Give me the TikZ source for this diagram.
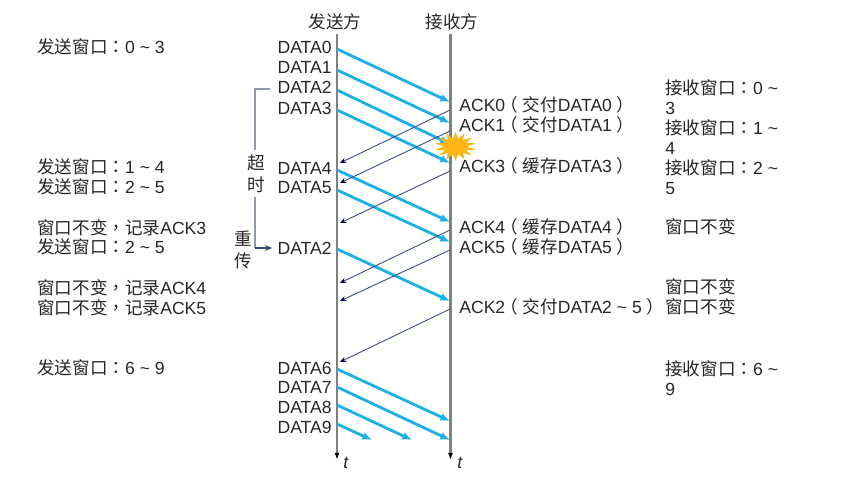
\documentclass[tikz,border=0pt]{standalone}
\usepackage{fontspec}
\setmainfont{Liberation Sans}
\newfontfamily\cjk{Noto Sans CJK SC}
\newfontfamily\cjkmid{Noto Sans CJK TC}
\usetikzlibrary{arrows.meta,shapes}
\newcommand{\zh}[1]{{\cjk #1}}
\newcommand{\zhc}{{\cjkmid ：}}
\newcommand{\zhd}{{\cjkmid ，}}
\newcommand{\zhl}{{\cjk\kern-.25em（\kern.25em}}
\newcommand{\zhr}{{\cjk\kern.25em）\kern-.25em}}
\newcommand{\tld}{\textasciitilde}
\definecolor{datablue}{HTML}{1DB0E6}
\definecolor{acknavy}{HTML}{3A4A78}
\definecolor{timeline}{HTML}{808080}
\definecolor{timergray}{HTML}{8E99AE}
\definecolor{burst}{HTML}{FDB515}
\tikzset{
  label/.style={inner sep=0pt, text=black!85, font=\fontsize{10}{11.4}\selectfont, align=left},
  datatext/.style={label, anchor=east},
  notetext/.style={label, anchor=west},
  dataline/.style={-{Latex[length=5.5pt,width=4.5pt]}, line width=1.6pt, color=datablue},
  ackline/.style={-{Stealth[length=3.5pt,width=3pt,black!80!blue]}, line width=0.5pt, color=acknavy},
  timeaxis/.style={-{Latex[length=4pt,width=2.8pt,black]}, line width=1.2pt, color=timeline},
  timerline/.style={line width=0.7pt, color=timergray}
}
\begin{document}
\begin{tikzpicture}[x=0.02cm, y=-0.02cm]
      \useasboundingbox (0,0) rectangle (858,480);

      %% time axes
      \node [label] (sender) at (335,22) {\zh{发送方}};
      \node [label] (receiver) at (452,22) {\zh{接收方}};
      \coordinate (sendertop) at (337,34);
      \coordinate (senderend) at (337,460);
      \coordinate (receivertop) at (450.5,34);
      \coordinate (receiverend) at (450.5,460);
      \draw [timeaxis] (sendertop) -- (senderend);
      \draw [timeaxis] (receivertop) -- (receiverend);
      \node [label] (sendert) at (346,463) {\textit{t}};
      \node [label] (receivert) at (460,463) {\textit{t}};

      %% data labels
      \foreach \n/\y/\t in {d0/47/DATA0, d1/67/DATA1, d2/87/DATA2, d3/108/DATA3,
        d4/168/DATA4, d5/188/DATA5, dr/248/DATA2,
        d6/368/DATA6, d7/387/DATA7, d8/407/DATA8, d9/427/DATA9}
        \node [datatext] (\n) at (332,\y) {\t};

      %% data segments
      \foreach \n/\xa/\ya/\xb/\yb in {a/337/49/450/102, b/337/70/450/123, c/337/90/450/144,
        e/337/110/450/163, f/337/170/450/222, g/337/190/450/242, h/337/249/450/301,
        i/337/369/450/421, j/337/387/450/440, k/337/405/412/440, l/337/424/372/440}
      {
        \coordinate (\n from) at (\xa,\ya);
        \coordinate (\n to) at (\xb,\yb);
        \draw [dataline] (\n from) -- (\n to);
      }

      %% lost segment
      \node [star, star points=14, star point ratio=1.8, minimum size=0.8cm, inner sep=0pt,
        fill=burst, xscale=1.05, yscale=0.72] (lost) at (455.5,146.5) {};

      %% acknowledgements
      \foreach \n/\ya/\yb in {p/110/163, q/131/183, r/171/223, s/230/283, u/250/301, v/309/362}
      {
        \coordinate (\n from) at (450,\ya);
        \coordinate (\n to) at (340,\yb);
        \draw [ackline] (\n from) -- (\n to);
      }

      \foreach \n/\y/\t in {ack0/105/ACK0\zhl\zh{交付}DATA0\zhr,
        ack1/125/ACK1\zhl\zh{交付}DATA1\zhr,
        ack3/166/ACK3\zhl\zh{缓存}DATA3\zhr,
        ack4/227/ACK4\zhl\zh{缓存}DATA4\zhr,
        ack5/247/ACK5\zhl\zh{缓存}DATA5\zhr,
        ack2/307/ACK2\zhl\zh{交付}DATA2 \tld{} 5\zhr}
        \node [notetext] (\n) at (459,\y) {\t};

      %% timeout bracket
      \node [label] (chao) at (256,163) {\zh{超}};
      \node [label] (shi) at (256,185) {\zh{时}};
      \node [label] (zhong) at (243,239) {\zh{重}};
      \node [label] (chuan) at (243,261) {\zh{传}};
      \coordinate (timerstart) at (270,89);
      \coordinate (timercorner) at (255,89);
      \coordinate (timerbreak) at (255,150);
      \coordinate (timerresume) at (255,197);
      \coordinate (timerbottom) at (255,248);
      \coordinate (timerend) at (272,248);
      \draw [timerline] (timerstart) -- (timercorner) -- (timerbreak);
      \draw [timerline] (timerresume) -- (timerbottom);
      \draw [timerline, color=acknavy, -{Stealth[length=4pt,width=3.5pt]}] (timerbottom) -- (timerend);

      %% sender window
      \foreach \n/\y/\t in {w0/47/\zh{发送窗口}\zhc 0 \tld{} 3, w1/167/\zh{发送窗口}\zhc 1 \tld{} 4,
        w2/187/\zh{发送窗口}\zhc 2 \tld{} 5, w3/228/\zh{窗口不变}\zhd\zh{记录}ACK3,
        w4/247/\zh{发送窗口}\zhc 2 \tld{} 5, w5/288/\zh{窗口不变}\zhd\zh{记录}ACK4,
        w6/308/\zh{窗口不变}\zhd\zh{记录}ACK5, w7/368/\zh{发送窗口}\zhc 6 \tld{} 9}
        \node [notetext] (\n) at (37,\y) {\t};

      %% receiver window
      \foreach \n/\y/\t in {v0/97/\zh{接收窗口}\zhc 0 \tld\\3, v1/137/\zh{接收窗口}\zhc 1 \tld\\4,
        v2/177/\zh{接收窗口}\zhc 2 \tld\\5, v3/227/\zh{窗口不变},
        v4/287/\zh{窗口不变}, v5/307/\zh{窗口不变}, v6/378/\zh{接收窗口}\zhc 6 \tld\\9}
        \node [notetext] (\n) at (665,\y) {\t};

   \end{tikzpicture}
\end{document}
